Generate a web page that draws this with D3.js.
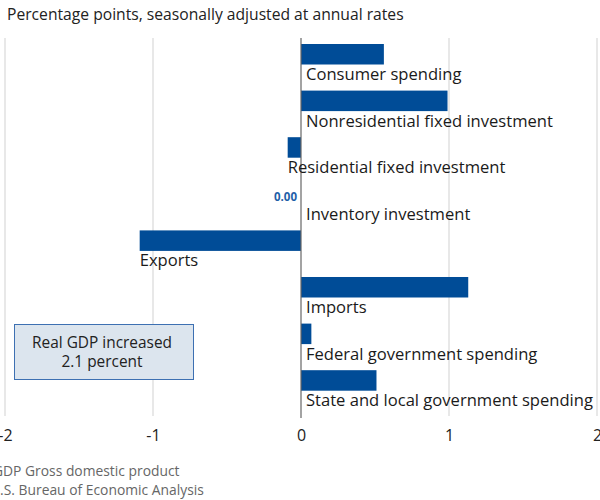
<!DOCTYPE html>
<html>
<head>
<meta charset="utf-8">
<script src="https://cdn.jsdelivr.net/npm/d3@7"></script>
<style>
  html, body { margin: 0; padding: 0; background: #fff; overflow: hidden; }
  svg { display: block; font-family: "Open Sans", Lato, sans-serif; }
</style>
</head>
<body>
<svg id="chart" width="600" height="500"></svg>
<script>
const categories = [
  "Consumer spending",
  "Nonresidential fixed investment",
  "Residential fixed investment",
  "Inventory investment",
  "Exports",
  "Imports",
  "Federal government spending",
  "State and local government spending"
];
const values = [0.56, 0.99, -0.09, 0.00, -1.09, 1.13, 0.07, 0.51];
const tickValues = [-2, -1, 0, 1, 2];
const title = "Percentage points, seasonally adjusted at annual rates";
const boxLines = ["Real GDP increased", "2.1 percent"];
const notes = ["GDP Gross domestic product", "U.S. Bureau of Economic Analysis"];

const svg = d3.select("#chart");
const x = d3.scaleLinear().domain([-2, 2]).range([5, 597]);
const y = d3.scaleBand().domain(categories).range([44, 390.7]).paddingInner(0.56).paddingOuter(0).align(0);

function fit(sel, w) {
  sel.each(function () {
    const len = this.getComputedTextLength();
    const fs = parseFloat(this.getAttribute("font-size"));
    this.setAttribute("font-size", (fs * w / len).toFixed(2));
  });
}

// title
svg.append("text").attr("x", 7).attr("y", 20)
  .attr("font-size", 17).attr("fill", "#222").text(title)
  .call(fit, 397);

// grid
svg.append("g").selectAll("line").data(tickValues.filter(d => d !== 0)).join("line")
  .attr("x1", d => x(d)).attr("x2", d => x(d))
  .attr("y1", 38).attr("y2", 416)
  .attr("stroke", "#e0e0e0").attr("stroke-width", 1.5);

// bars
const barColor = "#004c97";
svg.append("g").selectAll("rect").data(values).join("rect")
  .attr("x", d => x(Math.min(0, d)))
  .attr("y", (d, i) => y(categories[i]))
  .attr("width", d => Math.abs(x(d) - x(0)))
  .attr("height", y.bandwidth())
  .attr("fill", barColor);

// zero line
svg.append("line").attr("x1", x(0)).attr("x2", x(0)).attr("y1", 38).attr("y2", 418)
  .attr("stroke", "#666").attr("stroke-width", 1.2);

// zero value label
svg.append("g").selectAll("text").data(values.map((v, i) => ({v, i})).filter(d => d.v === 0)).join("text")
  .attr("x", x(0) - 4)
  .attr("y", d => y(categories[d.i]) + 17)
  .attr("text-anchor", "end")
  .attr("font-size", 11.5).attr("font-weight", "bold").attr("fill", "#1f5fa8")
  .text(d => d.v.toFixed(2));

// category labels
svg.append("g").selectAll("text").data(categories).join("text")
  .attr("x", (d, i) => values[i] < 0 ? x(values[i]) : x(0) + 5)
  .attr("y", d => y(d) + 36)
  .attr("font-size", 15).attr("fill", "#1a1a1a")
  .text(d => d)
  .call(sel => {
    const n = sel.filter(d => d === "Nonresidential fixed investment").node();
    const k = 247 / n.getComputedTextLength();
    sel.attr("font-size", (15 * k).toFixed(2));
  });

// axis tick labels
const axis = d3.axisBottom(x).tickValues(tickValues).tickSize(0).tickPadding(0)
  .tickFormat(d => d < 0 ? "-" + Math.abs(d) : String(d));
const ax = svg.append("g").attr("transform", "translate(0,430)").call(axis);
ax.select(".domain").remove();
ax.selectAll("text").attr("font-size", 16).attr("fill", "#222")
  .attr("font-family", "'Open Sans', Lato, sans-serif").attr("dy", "0.71em");

// annotation box
svg.append("rect").attr("x", 14.5).attr("y", 324.5).attr("width", 179).attr("height", 55)
  .attr("fill", "#dce5ee").attr("stroke", "#3d70b2").attr("stroke-width", 1);
svg.append("g").selectAll("text").data(boxLines).join("text")
  .attr("x", 102).attr("y", (d, i) => 348 + i * 19)
  .attr("text-anchor", "middle").attr("font-size", 15).attr("fill", "#222")
  .text(d => d)
  .call(sel => {
    const k = 140 / sel.node().getComputedTextLength();
    sel.attr("font-size", (15 * k).toFixed(2));
  });

// notes
svg.append("g").selectAll("text").data(notes).join("text")
  .attr("x", (d, i) => i === 0 ? -7 : -10)
  .attr("y", (d, i) => 476 + i * 19)
  .attr("font-size", 13).attr("fill", "#666")
  .text(d => d)
  .call(sel => {
    const k = 214 / sel.filter((d, i) => i === 1).node().getComputedTextLength();
    sel.attr("font-size", (13 * k).toFixed(2));
  });
</script>
</body>
</html>
